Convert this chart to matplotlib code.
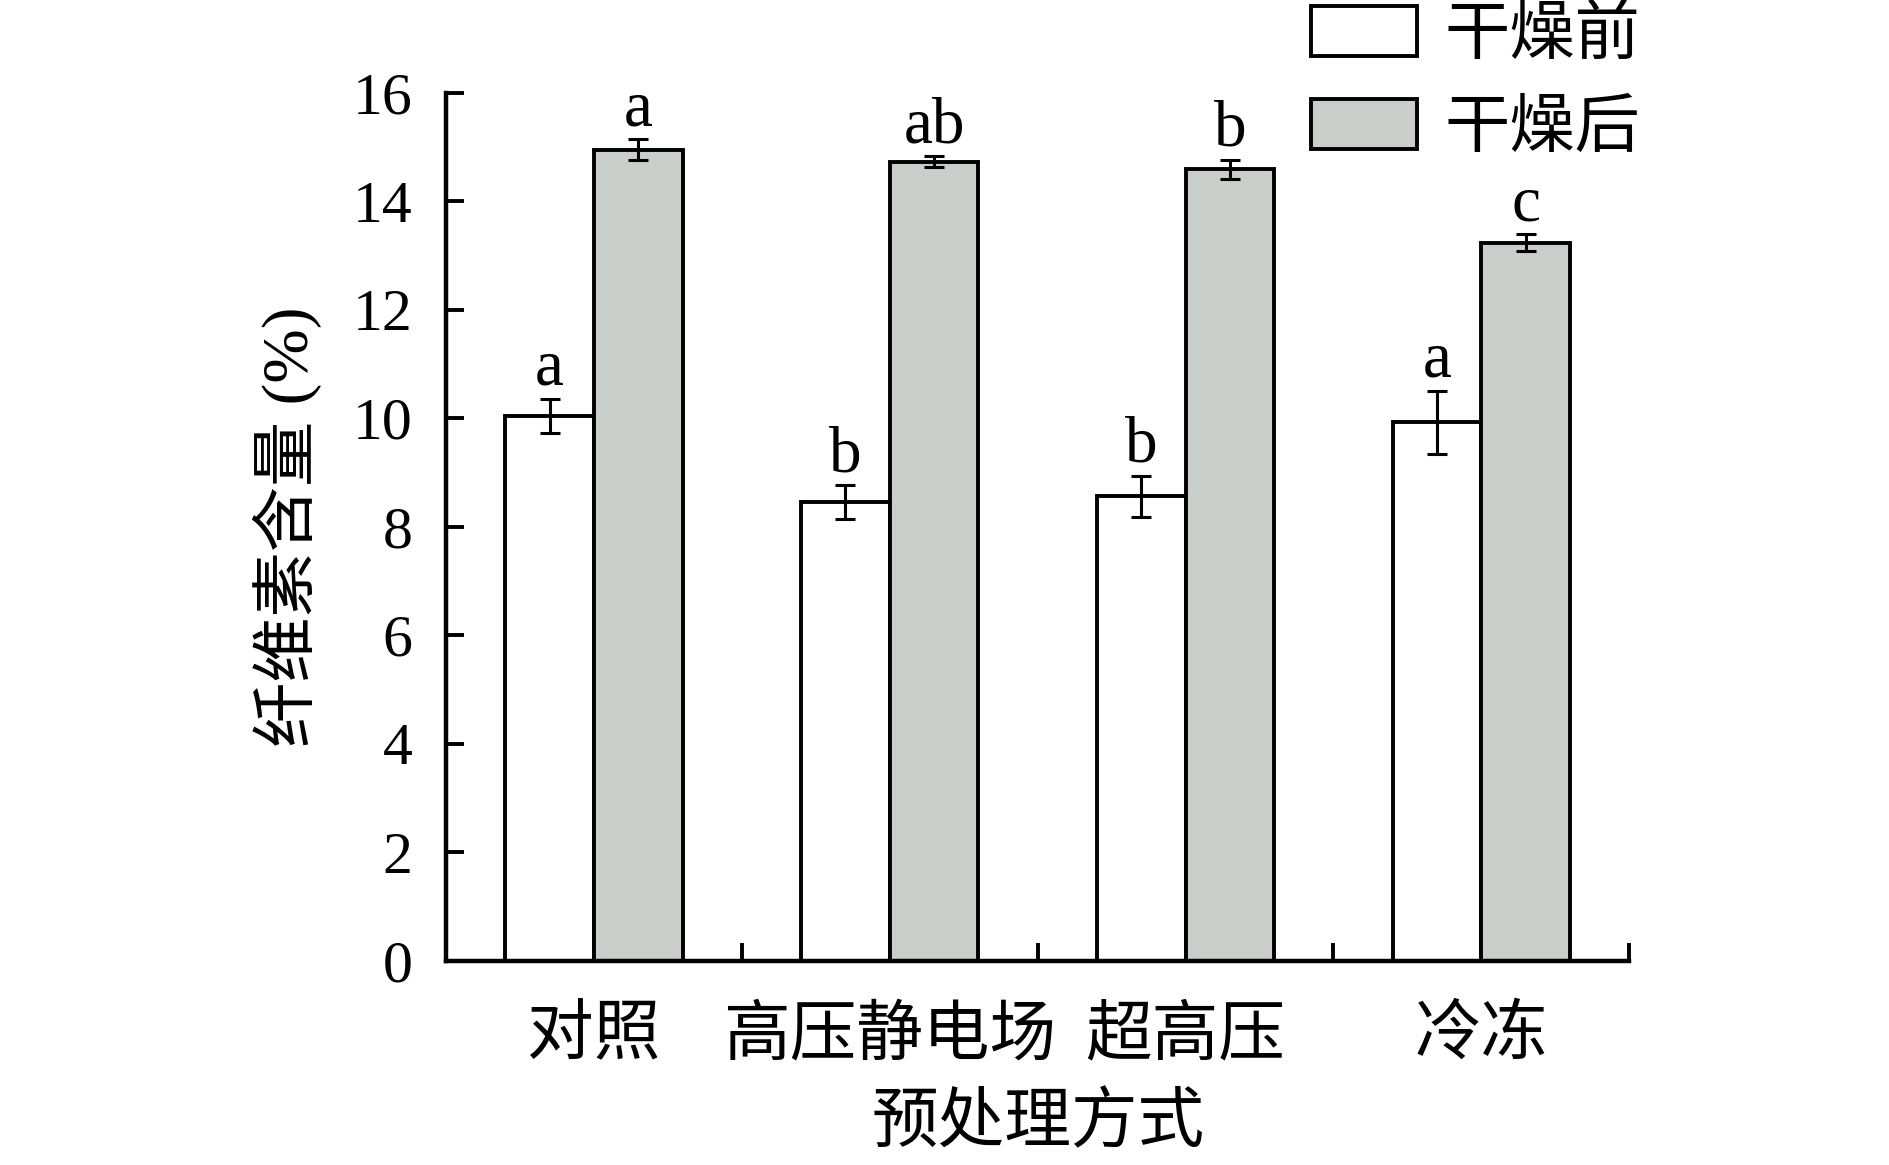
import matplotlib
matplotlib.use("Agg")
import matplotlib.pyplot as plt
import numpy as np

plt.rcParams['font.family'] = ['Liberation Serif', 'Noto Sans CJK SC']

categories = ['对照', '高压静电场', '超高压', '冷冻']
series_names = ['干燥前', '干燥后']
before = [10.04, 8.46, 8.56, 9.93]
before_err = [0.32, 0.31, 0.38, 0.58]
after = [14.95, 14.73, 14.59, 13.24]
after_err = [0.19, 0.10, 0.18, 0.15]
before_letters = ['a', 'b', 'b', 'a']
after_letters = ['a', 'ab', 'b', 'c']
yticks = [0, 2, 4, 6, 8, 10, 12, 14, 16]

fig = plt.figure(figsize=(18.9, 11.65), dpi=100)
ax = fig.add_axes([0.236, 0.1754, 0.862 - 0.236, 0.9203 - 0.1754])

x = np.arange(len(categories))
w = 0.30
lw = 2.8
gray = '#C9CECA'

b1 = ax.bar(x - w / 2, before, w, color='white', edgecolor='black', linewidth=lw,
            label=series_names[0], zorder=2)
b2 = ax.bar(x + w / 2, after, w, color=gray, edgecolor='black', linewidth=lw,
            label=series_names[1], zorder=2)
ax.errorbar(x - w / 2, before, yerr=before_err, fmt='none', ecolor='black',
            elinewidth=2.2, capsize=7, capthick=2.2, zorder=3)
ax.errorbar(x + w / 2, after, yerr=after_err, fmt='none', ecolor='black',
            elinewidth=2.2, capsize=7, capthick=2.2, zorder=3)

for xi, v, e, t in zip(x - w / 2, before, before_err, before_letters):
    ax.annotate(t, (xi, v + e), xytext=(0, 10), textcoords='offset points',
                ha='center', va='baseline', fontsize=47)
for xi, v, e, t in zip(x + w / 2, after, after_err, after_letters):
    ax.annotate(t, (xi, v + e), xytext=(0, 10), textcoords='offset points',
                ha='center', va='baseline', fontsize=47)

ax.set_xlim(-0.5, len(categories) - 0.5)
ax.set_ylim(0, 16)
ax.set_yticks(yticks)
ax.set_yticklabels([str(t) for t in yticks], fontsize=43)
ax.tick_params(axis='y', direction='in', length=13, width=2.8, pad=24)

ax.set_xticks(np.arange(len(categories) + 1) - 0.5)
ax.set_xticklabels([])
ax.tick_params(axis='x', which='major', direction='in', length=13, width=2.8)
ax.set_xticks(x, minor=True)
ax.set_xticklabels(categories, minor=True, fontsize=48)
ax.tick_params(axis='x', which='minor', length=0, pad=33)

for s in ['top', 'right']:
    ax.spines[s].set_visible(False)
for s in ['left', 'bottom']:
    ax.spines[s].set_linewidth(3.2)

ax.set_xlabel('预处理方式', fontsize=48, labelpad=18)
ax.set_ylabel('纤维素含量 (%)', fontsize=47, labelpad=22)

leg = fig.legend(handles=[b1, b2], loc='upper left', bbox_to_anchor=(1311 / 1890, 1 - 6 / 1165),
                 frameon=False, fontsize=47, handlelength=1.63, handleheight=0.8,
                 handletextpad=0.42, labelspacing=0.48, borderpad=0, borderaxespad=0)

fig.savefig('out.png', dpi=100)
